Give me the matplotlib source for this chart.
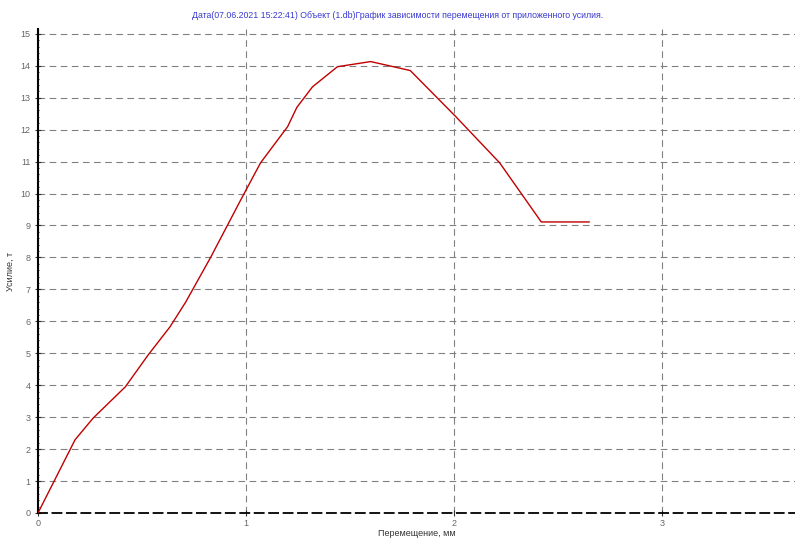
import matplotlib.pyplot as plt
import matplotlib.ticker as ticker

plt.rcParams['font.family'] = ['Liberation Sans', 'DejaVu Sans']

# перемещение, мм / усилие, т
disp = [0.0, 0.178, 0.265, 0.42, 0.53, 0.635, 0.71, 0.83, 0.97, 1.07, 1.20, 1.245, 1.32, 1.44, 1.60, 1.79, 2.01, 2.22, 2.42, 2.65]
force = [0.0, 2.29, 2.97, 3.95, 4.95, 5.83, 6.6, 8.0, 9.74, 10.96, 12.09, 12.7, 13.34, 13.97, 14.13, 13.85, 12.4, 10.96, 9.11, 9.11]

title = 'Дата(07.06.2021 15:22:41) Объект (1.db)График зависимости перемещения от приложенного усилия.'

fig = plt.figure(figsize=(7.95, 5.39), dpi=100)
ax = fig.add_axes([38/795, 1-513/539, 1-38/795, (513-29)/539])

ax.plot(disp, force, color='#c00000', linewidth=1.0, zorder=5)

ax.set_xlim(0, 3.64)
ax.set_ylim(0, 15.15)
ax.xaxis.set_major_locator(ticker.MultipleLocator(1))
ax.yaxis.set_major_locator(ticker.MultipleLocator(1))
ax.yaxis.set_minor_locator(ticker.MultipleLocator(0.2))

ax.grid(True, which='major', linestyle=(0, (6, 4)), color='#808080', linewidth=0.8)
ax.tick_params(axis='both', labelsize=6.5, labelcolor='#666666', color='#333333', length=4, direction='inout')
ax.tick_params(axis='y', which='minor', length=2, direction='inout')
ax.tick_params(axis='x', pad=2)

for s in ['top', 'right']:
    ax.spines[s].set_visible(False)
ax.spines['left'].set_linewidth(1.5)
ax.spines['bottom'].set_linestyle((0, (5, 3)))
ax.spines['bottom'].set_linewidth(1.3)

ax.set_xlabel('Перемещение, мм', fontsize=6.5, color='#333333', labelpad=1)
ax.set_ylabel('Усилие, т', fontsize=6.5, color='#333333', labelpad=4)
fig.text(0.5, 1-16/539, title, ha='center', va='center', fontsize=6.3, color='#3a3ad0')

fig.savefig('out.png', dpi=100)
